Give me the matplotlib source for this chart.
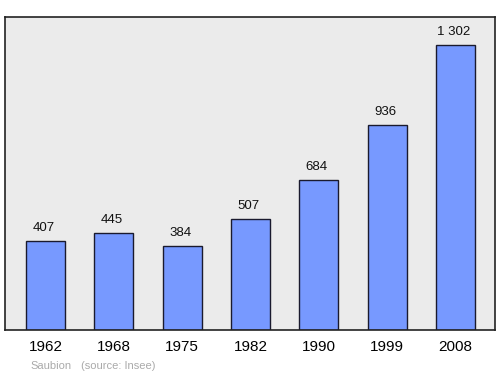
import matplotlib
matplotlib.use("Agg")
import matplotlib.pyplot as plt

years = ["1962", "1968", "1975", "1982", "1990", "1999", "2008"]
population = [407, 445, 384, 507, 684, 936, 1302]
value_labels = ["407", "445", "384", "507", "684", "936", "1 302"]

plt.rcParams["font.family"] = ["Liberation Sans", "DejaVu Sans"]

fig = plt.figure(figsize=(5, 3.74), dpi=100)
ax = fig.add_axes([0.01, 0.1176, 0.98, 0.837])
ax.set_facecolor("#ebebeb")

xs = list(range(len(years)))
ax.bar(xs, population, width=0.57, color="#7799ff", edgecolor="#1a1a2e", linewidth=1.0)
for x, v, lab in zip(xs, population, value_labels):
    ax.annotate(lab, (x, v), xytext=(-1.5, 5), textcoords="offset points",
                ha="center", va="bottom", fontsize=9.5, color="#111111")

ax.set_xlim(-0.593, 6.58)
ax.set_ylim(0, 1430)
ax.set_yticks([])
ax.set_xticks(xs)
ax.set_xticklabels(years, fontsize=11)
ax.tick_params(axis="x", length=0, pad=7.5)
for s in ax.spines.values():
    s.set_color("#222222")
    s.set_linewidth(1.2)

fig.text(0.06, 0.014, "Saubion", fontsize=8, color="#aaaaaa")
fig.text(0.162, 0.014, "(source: Insee)", fontsize=8, color="#aaaaaa")

fig.savefig("out.png", dpi=100)
